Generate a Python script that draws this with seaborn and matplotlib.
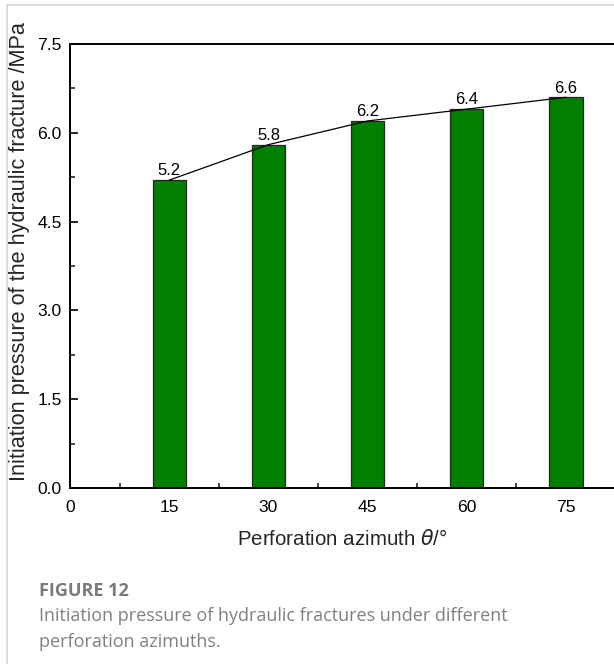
import matplotlib
matplotlib.use("Agg")
import matplotlib.pyplot as plt
import seaborn as sns
import numpy as np
from matplotlib.lines import Line2D
from matplotlib.ticker import MultipleLocator, FormatStrFormatter

azimuth = [15, 30, 45, 60, 75]
pressure = [5.2, 5.8, 6.2, 6.4, 6.6]
labels = ["5.2", "5.8", "6.2", "6.4", "6.6"]

sns.set_style("ticks")
plt.rcParams['font.family'] = ['Liberation Sans', 'DejaVu Sans']

fig = plt.figure(figsize=(6.14, 6.64), dpi=100)
W, H = 614, 664
ax = fig.add_axes([70 / W, 1 - 488 / H, (614 - 70) / W, (488 - 44) / H])

sns.barplot(x=azimuth, y=pressure, native_scale=True, width=1/3, saturation=1,
            color="#007f00", edgecolor="#262626", linewidth=0.9, ax=ax, zorder=2)
sns.lineplot(x=azimuth, y=pressure, color="black", linewidth=0.9, ax=ax, zorder=3)
for xv, yv, lb in zip(azimuth, pressure, labels):
    ax.text(xv, yv + 0.03, lb, ha="center", va="bottom", fontsize=12, color="black")

ax.set_xlim(0, 82.26)
ax.set_ylim(0, 7.5)
ax.set_xticks([0, 15, 30, 45, 60, 75])
ax.set_xticklabels(["0", "15", "30", "45", "60", "75"])
ax.xaxis.set_minor_locator(MultipleLocator(7.5))
ax.yaxis.set_major_locator(MultipleLocator(1.5))
ax.yaxis.set_minor_locator(MultipleLocator(0.75))
ax.yaxis.set_major_formatter(FormatStrFormatter("%.1f"))
ax.tick_params(which="major", direction="in", length=6, width=1.2, labelsize=12.6, colors="black")
ax.tick_params(axis="x", which="major", pad=9)
ax.tick_params(axis="y", which="major", pad=6)
ax.tick_params(which="minor", direction="in", length=3.5, width=1.2)
for s in ["left", "bottom", "top"]:
    ax.spines[s].set_linewidth(1.4)
    ax.spines[s].set_color("black")
ax.spines["right"].set_visible(False)
ax.set_xlabel(r"Perforation azimuth $\theta$/°", fontsize=14.8, labelpad=10)
ax.set_ylabel("Initiation pressure of the hydraulic fracture /MPa", fontsize=15.6)
ax.yaxis.set_label_coords((30 - 70) / 544, (488 - 252) / 444)

# page border lines
fig.add_artist(Line2D([7 / W, 7 / W], [0, 1 - 5 / H], transform=fig.transFigure, color="#d6d6d6", linewidth=1.2))
fig.add_artist(Line2D([7 / W, 1], [1 - 5 / H, 1 - 5 / H], transform=fig.transFigure, color="#d6d6d6", linewidth=1.2))

cap_font = ["Open Sans", "DejaVu Sans"]
fig.text(39 / W, 1 - 591 / H, "FIGURE 12", fontsize=13, fontweight="bold", color="#7a7a7a",
         family=cap_font, va="center", ha="left")
fig.text(39 / W, 1 - 616 / H, "Initiation pressure of hydraulic fractures under different", fontsize=13,
         color="#808080", family=cap_font, va="center", ha="left")
fig.text(39 / W, 1 - 642 / H, "perforation azimuths.", fontsize=13,
         color="#808080", family=cap_font, va="center", ha="left")

fig.savefig("out.png", dpi=100)
